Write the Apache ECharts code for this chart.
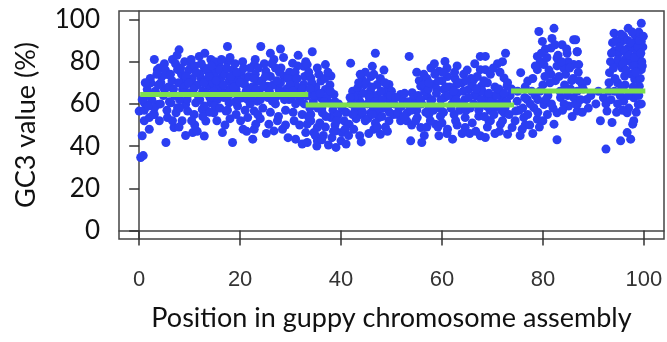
<!DOCTYPE html>
<html>
<head>
<meta charset="utf-8">
<script src="https://cdn.jsdelivr.net/npm/echarts@6/dist/echarts.min.js"></script>
<style>
  html, body { margin: 0; padding: 0; background: #fff; }
  #chart { width: 667px; height: 342px; }
</style>
</head>
<body>
<div id="chart"></div>
<script>
// axis ticks
const xTicks = [0, 20, 40, 60, 80, 100]
const yTicks = [0, 20, 40, 60, 80, 100]

// gene points [position, GC3] — first block (0 - 33)
const block1 = [
  [0.3, 34.6], [0.8, 35.5], [0.6, 44.9], [0, 56.6], [1, 52], [2, 53.5], [3, 55], [5.3, 41.7], [6.9, 48.8],
  [5.6, 53.5], [7.3, 55.8], [10.6, 46.4], [12.9, 44.8], [11.5, 47], [13.2, 51.9], [9.6, 56.6], [10.9, 55],
  [12.5, 57.4], [13.5, 56.6], [14.8, 55.8], [3, 81], [3.6, 76.2], [2.3, 70], [4.3, 70], [5.6, 73.9],
  [7.6, 76.2], [7.9, 85.6], [6.6, 81], [10.2, 79.3], [11.9, 82.5], [14.2, 81], [12.9, 77], [14.8, 75.5],
  [8.9, 71.5], [10.6, 69.2], [12.2, 72.3], [13.8, 68.4], [8.6, 66.8], [5, 66.8], [1.6, 66.8], [1, 60.5],
  [3.6, 59.7], [6.3, 60.5], [9.2, 59.7], [11.2, 60.5], [14.2, 60.5], [7.6, 58.2], [12.9, 59],
  [17.5, 87.2], [24.1, 87.2], [15.8, 78.6], [17.5, 80.1], [18.5, 76.2], [16.2, 72.3], [17.8, 70.8],
  [19.5, 72.3], [20.9, 69.2], [19.2, 66.8], [16.5, 66], [22.8, 78.6], [25.1, 75.5], [23.4, 70.8],
  [25.4, 68.4], [21.8, 66.8], [26.7, 81], [28.1, 77], [30.4, 79.3], [28.7, 73.2], [30.7, 71.6],
  [32.6, 77.8], [32.6, 69.2], [31.6, 66], [27.7, 66.8], [15.5, 62.1], [17.8, 60.5], [20.5, 62.9],
  [23.4, 61.3], [26.4, 61.3], [29.7, 62.1], [17.2, 56.6], [19.5, 59], [22.8, 56.6], [21.5, 53.5],
  [20.1, 52], [23.1, 50.4], [20.6, 48], [25.7, 50.4], [27.4, 52], [28.4, 48], [26.7, 47.2], [30.7, 52],
  [31, 43.3], [33, 46.4], [32.3, 41], [16.5, 46.4], [18.5, 41.7], [22.5, 43.3], [22.8, 48], [32.3, 55],
  [2.5, 62], [3.2, 66], [4.5, 73], [4, 77], [5.8, 68], [6.5, 71], [7, 64], [7.8, 70], [8.4, 74], [9, 68],
  [9.8, 76], [10, 65], [10.5, 72], [11, 78], [11.6, 69], [12, 74], [12.6, 66], [13, 71], [13.4, 76],
  [14, 63], [14.5, 70], [15, 73], [15.6, 68], [16, 76], [16.8, 63], [17, 74], [18, 67], [18.6, 71],
  [19, 79], [19.8, 64], [20.2, 75], [21, 72], [21.5, 62], [22, 77], [22.4, 68], [23, 74], [23.8, 65],
  [24.3, 71], [24.8, 79], [25.5, 63], [26, 73], [26.5, 69], [27, 77], [27.5, 64], [28, 70], [28.6, 82],
  [29.2, 67], [29.8, 75], [30.2, 63], [31, 69], [31.4, 78], [32, 64], [32.8, 73], [6, 61], [8, 58],
  [9.5, 62], [12, 62], [15, 59], [17.5, 57], [19, 61], [22, 60], [24.5, 58], [27, 60], [29, 57], [31, 60],
  [3, 58], [1.5, 64], [1, 57], [2, 48], [4, 52], [8.5, 52], [11, 50], [14, 56], [16, 58], [18, 53],
  [21, 57], [24, 53], [26, 56], [29, 50], [30.5, 56], [7.5, 83], [9, 80], [13, 84], [15, 80], [18, 82],
  [20.5, 80], [23, 81], [26, 84], [31.5, 83], [33, 80], [5, 79], [3.5, 74], [28, 86],
  [2.2, 72], [3.8, 69], [4.8, 64], [5.2, 76], [6.2, 74], [6.8, 67], [7.2, 79], [8, 62], [8.2, 77],
  [8.8, 65], [9.3, 73], [9.8, 70], [10.3, 81], [10.8, 67], [11.3, 75], [11.8, 63], [12.3, 79], [12.8, 70],
  [13.3, 65], [13.8, 73], [14.3, 78], [14.8, 66], [15.3, 71], [15.8, 64], [16.3, 81], [16.7, 69],
  [17.3, 77], [17.7, 64], [18.2, 73], [18.8, 68], [19.3, 75], [19.6, 62], [20, 70], [20.7, 77], [21.2, 66],
  [21.7, 73], [22.2, 63], [22.7, 72], [23.2, 67], [23.6, 77], [24, 62], [24.6, 68], [25, 73], [25.8, 66],
  [26.3, 79], [26.8, 62], [27.3, 71], [27.8, 75], [28.3, 65], [28.8, 62], [29.4, 72], [29.9, 69],
  [30.4, 66], [30.9, 75], [31.3, 72], [31.8, 62], [32.3, 67], [32.7, 60], [1.2, 70], [0.6, 62], [1.8, 59],
  [2.8, 55], [4.2, 60], [5.5, 57], [6.6, 52], [7.9, 49], [9.2, 45], [10.4, 52], [12.6, 54], [15.4, 52],
  [17, 50], [19.2, 55], [21.3, 47], [23.5, 55], [25.2, 46], [27.6, 54], [29.5, 44], [31.8, 50]
]

// second block (33 - 50)
const block2 = [
  [34.3, 84.7], [46.8, 84], [41.9, 79.3], [46.2, 77.8], [33.3, 78.6], [35.3, 77], [36.9, 78.6], [34, 72.3],
  [36, 70.8], [38, 73.2], [34.6, 66], [36.9, 66.8], [38.6, 64.5], [33.3, 63.7], [36, 62.9], [37.6, 60.5],
  [34, 55], [36.3, 55.8], [38, 53.5], [33.3, 50.4], [35.3, 48.8], [34.6, 46.4], [33.3, 41.7], [35.3, 42.5],
  [39, 47.2], [40, 42.5], [39, 39.4], [40.6, 52], [41.6, 50.4], [40.2, 46.4], [43.7, 44.9], [42.3, 66],
  [43.3, 67.6], [44.2, 71.5], [45.9, 73], [47.2, 69.2], [48.8, 66], [49.5, 69.2], [43.7, 61.3],
  [45.7, 62.9], [47.6, 62.1], [49.8, 61.3], [43.9, 55], [45.9, 55.8], [47.5, 53.5], [46.5, 48],
  [47.8, 45.6], [49.5, 52], [50.4, 55],
  [33.8, 58], [34.5, 61], [35, 68], [35.6, 74], [36.2, 58], [36.8, 72], [37.2, 63], [37.8, 69], [38.4, 57],
  [34, 52], [35.8, 51], [37, 54], [38.8, 50], [39.4, 55], [36.5, 45], [37.5, 40.5], [38.2, 44], [34.2, 70],
  [33.6, 75], [39.5, 60], [40.2, 58], [41, 56], [42, 60], [42.8, 57], [43.5, 64], [44, 58], [44.6, 69],
  [45.2, 60], [45.8, 66], [46.4, 58], [47, 64], [47.8, 72], [48.4, 58], [49, 63], [49.6, 56], [50, 66],
  [44.8, 52], [46.8, 51], [48.8, 49], [42.5, 48], [43, 53], [45.5, 46], [41, 41], [44, 42], [48.5, 76],
  [46.5, 74], [44.8, 75], [43.5, 70],
  [33.9, 67], [34.8, 64], [35.4, 58], [35.9, 65], [36.6, 61], [37.4, 75], [37.9, 66], [38.8, 61], [39.2, 52],
  [33.5, 54], [34.9, 45], [36.9, 49], [35.2, 40], [36.2, 43], [38.5, 47], [42.6, 63], [43.2, 59], [43.8, 74],
  [44.4, 65], [45, 70], [45.6, 63], [46.1, 68], [46.7, 61], [47.3, 57], [47.9, 66], [48.2, 62], [48.7, 70],
  [49.3, 59], [49.8, 64], [44.3, 56], [45.3, 53], [46.2, 55], [47.2, 49], [48.1, 54], [49.2, 47],
  [41.8, 63], [42.3, 55], [40.8, 48], [41.5, 45]
]

// third block (50 - 74)
const block3 = [
  [53.5, 82.5], [67.6, 82.5], [60.6, 80.1], [67.6, 76.2], [56.4, 74], [57.8, 77], [59.4, 75.5], [61.1, 73],
  [64.3, 74], [66.3, 71.5], [55.8, 68.4], [58.4, 69.2], [60.4, 66.8], [62.9, 69.2], [65.3, 66.8],
  [67.8, 68.4], [51.8, 64.5], [54.1, 65.3], [57.1, 63.7], [62.1, 63.7], [67, 63.7], [51.2, 55], [53.1, 55.8],
  [55.1, 53.5], [57.4, 55], [59.7, 54.2], [62.4, 55], [64.6, 53.5], [67.3, 54.2], [55.8, 48.8], [58.7, 50.4],
  [61.1, 48], [64.6, 48.8], [67.6, 44.9], [53.8, 42.5], [56, 41.7], [59.4, 44.9], [62.1, 43.3], [51.8, 52],
  [69.3, 52], [72.6, 84], [68.6, 76.2], [68.6, 82.5], [72.3, 72.3], [72.9, 68.4], [71, 65.3], [68.9, 63.7],
  [70.3, 58.2], [72.3, 55.8], [69.6, 52], [71.6, 50.4], [73.9, 48.8], [73, 45.6], [68.6, 44.1],
  [50.5, 60], [51.5, 58], [52.2, 62], [53, 52], [53.6, 59], [54.4, 63], [55, 57], [55.5, 71], [56, 60],
  [56.6, 66], [57, 72], [57.5, 58], [58, 62], [58.6, 74], [59, 67], [59.6, 58], [60, 71], [60.5, 63],
  [61, 77], [61.5, 68], [62, 60], [62.6, 72], [63, 65], [63.5, 57], [64, 70], [64.5, 62], [65, 76],
  [65.6, 58], [66, 69], [66.5, 64], [67, 73], [67.5, 59], [68, 66], [68.5, 62], [69, 70], [69.5, 57],
  [70, 63], [70.5, 68], [71, 60], [71.5, 75], [72, 62], [72.5, 58], [73, 70], [73.5, 64], [54, 50], [57, 49],
  [60, 51], [63, 50], [66, 51], [69, 49], [72, 52], [56.5, 45], [61, 46], [65.5, 46], [70.5, 46], [71, 79],
  [72, 80], [66.5, 79], [63, 78], [58.5, 79], [55, 75],
  [50.8, 63], [51.3, 56], [52, 59], [52.6, 65], [53.3, 61], [53.9, 57], [54.7, 60], [55.3, 64], [55.8, 62],
  [56.3, 69], [56.8, 56], [57.3, 67], [57.8, 61], [58.3, 57], [58.9, 65], [59.3, 71], [59.8, 62],
  [60.3, 56], [60.8, 68], [61.3, 64], [61.8, 58], [62.3, 66], [62.8, 62], [63.3, 70], [63.8, 60],
  [64.2, 66], [64.8, 57], [65.3, 63], [65.8, 72], [66.3, 60], [66.8, 67], [67.3, 57], [67.8, 62],
  [68.3, 71], [68.8, 59], [69.3, 65], [69.8, 61], [70.3, 55], [70.8, 64], [71.3, 67], [71.8, 57],
  [72.3, 65], [72.8, 61], [73.3, 55], [73.8, 67], [52.5, 54], [54.8, 52], [57.7, 52], [59.2, 49],
  [62.7, 52], [64, 46], [66.7, 47], [68.4, 54], [71.4, 47], [60.2, 75], [62.5, 75], [64.8, 71], [57.4, 70],
  [69.6, 74], [70.2, 77]
]

// last block (74 - 100)
const block4 = [
  [82.2, 95.8], [79.2, 94.3], [86.1, 90.4], [79.9, 89.6], [81.6, 86.5], [78.9, 82.5], [82.8, 81.7],
  [84.8, 84], [86.8, 84.7], [80.2, 78.6], [84.1, 77], [86.1, 78.6], [81.6, 74], [78.9, 76.2], [75.6, 74.8],
  [77, 70.8], [74.6, 56.6], [75.9, 48], [76.2, 53.5], [74.9, 61.3], [76.9, 62.1], [78.2, 58.2], [80.2, 59.7],
  [80.9, 55], [78.9, 52.7], [82.8, 55.8], [85.1, 59], [82.2, 50.4], [82.8, 43], [83.5, 63], [86.1, 63],
  [86.8, 56.6], [99.5, 98.2], [96.9, 95.8], [94.1, 93.5], [98.2, 92.7], [99.5, 89.6], [95.6, 89.6],
  [97.8, 86.5], [94.1, 85], [99.1, 82.5], [96.5, 81.7], [94.6, 79.3], [98.5, 78.6], [99.5, 76.2],
  [93.2, 74.8], [96.2, 73.2], [98.2, 71.6], [94.8, 70], [86.5, 90.4], [86.8, 84.7], [87.1, 78.6],
  [88.7, 70.8], [87.8, 69.2], [86.8, 66], [86.8, 59.7], [88.7, 62.1], [92, 62.9], [92.7, 56.6], [91.4, 52],
  [93.7, 51.2], [96, 61.3], [98, 62.9], [98.9, 59.7], [96.7, 55.8], [97.8, 50.4], [96.7, 46.4], [98, 52],
  [95.4, 42.5], [97.4, 43.3], [92.5, 38.6], [99.1, 68.4],
  [75, 66], [76, 58], [76.5, 68], [77.5, 60], [78, 72], [78.5, 64], [79, 56], [79.5, 80], [80, 69],
  [80.5, 86], [81, 64], [81.2, 76], [81.8, 91], [82, 58], [82.5, 71], [83, 83], [83.4, 66], [83.8, 88],
  [84.2, 60], [84.5, 74], [85, 80], [85.5, 67], [86, 72], [86.4, 60], [87, 75], [87.5, 62], [88, 67],
  [89, 58], [89.5, 64], [90.5, 60], [91, 66], [92.5, 60], [93, 66], [93.4, 80], [93.8, 89],
  [94.3, 72], [94.6, 56], [95, 84], [95.3, 64], [95.7, 77], [96, 92], [96.3, 69], [96.7, 86], [97, 58],
  [97.3, 80], [97.6, 74], [98, 89], [98.3, 66], [98.6, 84], [99, 94], [99.3, 72], [99.6, 80], [99.8, 87],
  [98.5, 56], [76.5, 50], [78, 46], [80, 52], [77, 55], [79, 62], [74.5, 52], [75.5, 45],
  [80.8, 82], [81.4, 70], [82.4, 88], [82.8, 78], [83.2, 73], [83.7, 80], [84.3, 69], [84.7, 86], [85.3, 77],
  [85.7, 71], [80.4, 73], [79.7, 84], [79.4, 66], [78.5, 78], [77.8, 66], [76.4, 63], [75.3, 57], [77.4, 50],
  [79.3, 49], [80.6, 62], [81.7, 60], [83.9, 57], [84.9, 64], [85.8, 54], [87.2, 71], [87.8, 56],
  [93.6, 84], [94, 77], [94.5, 90], [94.9, 81], [95.2, 87], [95.5, 93], [95.9, 79], [96.2, 85], [96.5, 76],
  [96.8, 90], [97.1, 83], [97.4, 89], [97.7, 94], [97.9, 78], [98.2, 82], [98.4, 75], [98.8, 87], [99.1, 90],
  [99.4, 84], [99.7, 78], [99.9, 92], [93.1, 70], [93.5, 62], [94.2, 66], [95.6, 68], [96.9, 64], [97.9, 68],
  [99, 64], [99.5, 60], [94.8, 60], [95.8, 57]
]

// segment means (green lines)
const segStart = [0.2, 33, 73.7]
const segEnd = [33.5, 74.3, 100.3]
const segMean = [64.4, 59.5, 66.1]

const chart = echarts.init(document.getElementById('chart'))

const lineSeries = segMean.map((m, i) => ({
  type: 'line',
  data: [[segStart[i], m], [segEnd[i], m]],
  symbol: 'none',
  lineStyle: {color: '#7ddf4f', width: 5, cap: 'butt'},
  z: 5,
  silent: true
}))

chart.setOption({
  animation: false,
  grid: {
    left: 119, right: 3, top: 11, bottom: 103,
    show: true,
    borderColor: '#444',
    borderWidth: 1.5,
    outerBoundsMode: 'none'
  },
  xAxis: {
    type: 'value',
    min: -4,
    max: 104,
    name: 'Position in guppy chromosome assembly',
    nameLocation: 'middle',
    nameGap: 66,
    nameTextStyle: {fontFamily: 'Lato', fontSize: 27, color: '#111'},
    axisLine: {show: true, lineStyle: {color: '#444', width: 1.5}},
    axisTick: {show: true, customValues: xTicks, length: 15, lineStyle: {color: '#333', width: 1.5}},
    axisLabel: {customValues: xTicks, margin: 30, fontFamily: 'Liberation Sans', fontSize: 22, color: '#333'},
    splitLine: {show: false}
  },
  yAxis: {
    type: 'value',
    min: -4,
    max: 104,
    name: 'GC3 value (%)',
    nameLocation: 'middle',
    nameGap: 79,
    nameTextStyle: {fontFamily: 'Lato', fontSize: 27, color: '#111'},
    axisLine: {show: true, lineStyle: {color: '#444', width: 1.5}},
    axisTick: {show: true, customValues: yTicks, length: 10, lineStyle: {color: '#333', width: 1.5}},
    axisLabel: {customValues: yTicks, margin: 19, fontFamily: 'Lato', fontSize: 26, color: '#111'},
    splitLine: {show: false}
  },
  series: [
    {
      type: 'scatter',
      data: [].concat(block1, block2, block3, block4),
      symbolSize: 9,
      itemStyle: {color: '#2b3ef2', opacity: 1},
      z: 2,
      silent: true
    },
    ...lineSeries
  ]
})
</script>
</body>
</html>
